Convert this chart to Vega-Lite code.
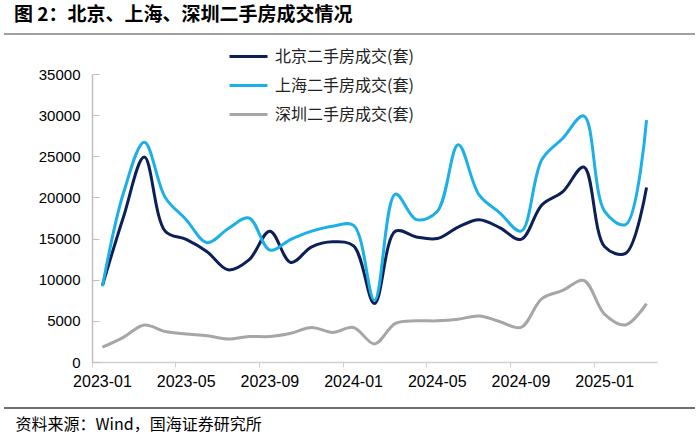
{
  "$schema": "https://vega.github.io/schema/vega-lite/v6.json",
  "width": 565,
  "height": 288,
  "autosize": {"type": "none"},
  "padding": {"left": 92, "top": 74, "right": 43, "bottom": 72},
  "background": "#ffffff",
  "title": {
    "text": "图 2：北京、上海、深圳二手房成交情况",
    "anchor": "start",
    "frame": "group",
    "dx": -78,
    "offset": 8,
    "font": "Noto Sans CJK SC",
    "fontSize": 19,
    "fontWeight": "bold",
    "color": "#000000"
  },
  "config": {
    "view": {"stroke": null},
    "font": "Liberation Sans"
  },
  "datasets": {
    "deals": [
      {"month": "2023-01", "city": "北京二手房成交(套)", "value": 9300},
      {"month": "2023-02", "city": "北京二手房成交(套)", "value": 17600},
      {"month": "2023-03", "city": "北京二手房成交(套)", "value": 24900},
      {"month": "2023-04", "city": "北京二手房成交(套)", "value": 15900},
      {"month": "2023-05", "city": "北京二手房成交(套)", "value": 14900},
      {"month": "2023-06", "city": "北京二手房成交(套)", "value": 13400},
      {"month": "2023-07", "city": "北京二手房成交(套)", "value": 11200},
      {"month": "2023-08", "city": "北京二手房成交(套)", "value": 12400},
      {"month": "2023-09", "city": "北京二手房成交(套)", "value": 15900},
      {"month": "2023-10", "city": "北京二手房成交(套)", "value": 12100},
      {"month": "2023-11", "city": "北京二手房成交(套)", "value": 14000},
      {"month": "2023-12", "city": "北京二手房成交(套)", "value": 14600},
      {"month": "2024-01", "city": "北京二手房成交(套)", "value": 14100},
      {"month": "2024-02", "city": "北京二手房成交(套)", "value": 7100},
      {"month": "2024-03", "city": "北京二手房成交(套)", "value": 15900},
      {"month": "2024-04", "city": "北京二手房成交(套)", "value": 15200},
      {"month": "2024-05", "city": "北京二手房成交(套)", "value": 15000},
      {"month": "2024-06", "city": "北京二手房成交(套)", "value": 16400},
      {"month": "2024-07", "city": "北京二手房成交(套)", "value": 17300},
      {"month": "2024-08", "city": "北京二手房成交(套)", "value": 16300},
      {"month": "2024-09", "city": "北京二手房成交(套)", "value": 14900},
      {"month": "2024-10", "city": "北京二手房成交(套)", "value": 19100},
      {"month": "2024-11", "city": "北京二手房成交(套)", "value": 20700},
      {"month": "2024-12", "city": "北京二手房成交(套)", "value": 23700},
      {"month": "2025-01", "city": "北京二手房成交(套)", "value": 14000},
      {"month": "2025-02", "city": "北京二手房成交(套)", "value": 13200},
      {"month": "2025-03", "city": "北京二手房成交(套)", "value": 21200},
      {"month": "2023-01", "city": "上海二手房成交(套)", "value": 9200},
      {"month": "2023-02", "city": "上海二手房成交(套)", "value": 20500},
      {"month": "2023-03", "city": "上海二手房成交(套)", "value": 26700},
      {"month": "2023-04", "city": "上海二手房成交(套)", "value": 20000},
      {"month": "2023-05", "city": "上海二手房成交(套)", "value": 17300},
      {"month": "2023-06", "city": "上海二手房成交(套)", "value": 14500},
      {"month": "2023-07", "city": "上海二手房成交(套)", "value": 16200},
      {"month": "2023-08", "city": "上海二手房成交(套)", "value": 17500},
      {"month": "2023-09", "city": "上海二手房成交(套)", "value": 13600},
      {"month": "2023-10", "city": "上海二手房成交(套)", "value": 14900},
      {"month": "2023-11", "city": "上海二手房成交(套)", "value": 15900},
      {"month": "2023-12", "city": "上海二手房成交(套)", "value": 16500},
      {"month": "2024-01", "city": "上海二手房成交(套)", "value": 16600},
      {"month": "2024-02", "city": "上海二手房成交(套)", "value": 7500},
      {"month": "2024-03", "city": "上海二手房成交(套)", "value": 20400},
      {"month": "2024-04", "city": "上海二手房成交(套)", "value": 17300},
      {"month": "2024-05", "city": "上海二手房成交(套)", "value": 18300},
      {"month": "2024-06", "city": "上海二手房成交(套)", "value": 26400},
      {"month": "2024-07", "city": "上海二手房成交(套)", "value": 20300},
      {"month": "2024-08", "city": "上海二手房成交(套)", "value": 18100},
      {"month": "2024-09", "city": "上海二手房成交(套)", "value": 15900},
      {"month": "2024-10", "city": "上海二手房成交(套)", "value": 24600},
      {"month": "2024-11", "city": "上海二手房成交(套)", "value": 27200},
      {"month": "2024-12", "city": "上海二手房成交(套)", "value": 29900},
      {"month": "2025-01", "city": "上海二手房成交(套)", "value": 18300},
      {"month": "2025-02", "city": "上海二手房成交(套)", "value": 16700},
      {"month": "2025-03", "city": "上海二手房成交(套)", "value": 29400},
      {"month": "2023-01", "city": "深圳二手房成交(套)", "value": 1800},
      {"month": "2023-02", "city": "深圳二手房成交(套)", "value": 3000},
      {"month": "2023-03", "city": "深圳二手房成交(套)", "value": 4500},
      {"month": "2023-04", "city": "深圳二手房成交(套)", "value": 3700},
      {"month": "2023-05", "city": "深圳二手房成交(套)", "value": 3400},
      {"month": "2023-06", "city": "深圳二手房成交(套)", "value": 3200},
      {"month": "2023-07", "city": "深圳二手房成交(套)", "value": 2800},
      {"month": "2023-08", "city": "深圳二手房成交(套)", "value": 3100},
      {"month": "2023-09", "city": "深圳二手房成交(套)", "value": 3100},
      {"month": "2023-10", "city": "深圳二手房成交(套)", "value": 3500},
      {"month": "2023-11", "city": "深圳二手房成交(套)", "value": 4200},
      {"month": "2023-12", "city": "深圳二手房成交(套)", "value": 3600},
      {"month": "2024-01", "city": "深圳二手房成交(套)", "value": 4200},
      {"month": "2024-02", "city": "深圳二手房成交(套)", "value": 2200},
      {"month": "2024-03", "city": "深圳二手房成交(套)", "value": 4700},
      {"month": "2024-04", "city": "深圳二手房成交(套)", "value": 5000},
      {"month": "2024-05", "city": "深圳二手房成交(套)", "value": 5000},
      {"month": "2024-06", "city": "深圳二手房成交(套)", "value": 5200},
      {"month": "2024-07", "city": "深圳二手房成交(套)", "value": 5600},
      {"month": "2024-08", "city": "深圳二手房成交(套)", "value": 4900},
      {"month": "2024-09", "city": "深圳二手房成交(套)", "value": 4200},
      {"month": "2024-10", "city": "深圳二手房成交(套)", "value": 7700},
      {"month": "2024-11", "city": "深圳二手房成交(套)", "value": 8700},
      {"month": "2024-12", "city": "深圳二手房成交(套)", "value": 9900},
      {"month": "2025-01", "city": "深圳二手房成交(套)", "value": 5800},
      {"month": "2025-02", "city": "深圳二手房成交(套)", "value": 4500},
      {"month": "2025-03", "city": "深圳二手房成交(套)", "value": 7100}
    ]
  },
  "layer": [
    {
      "data": {"values": [{"sep": "top"}]},
      "mark": {"type": "rule", "color": "#7f7f7f", "strokeWidth": 1.5, "clip": false},
      "encoding": {"x": {"value": -88}, "x2": {"value": 603}, "y": {"value": -40}}
    },
    {
      "data": {"values": [{"sep": "bottom"}]},
      "mark": {"type": "rule", "color": "#404040", "strokeWidth": 1.5, "clip": false},
      "encoding": {"x": {"value": -88}, "x2": {"value": 603}, "y": {"value": 334}}
    },
    {
      "data": {"name": "deals"},
      "mark": {"type": "line", "interpolate": "catmull-rom", "strokeWidth": 3, "clip": false},
      "encoding": {
        "x": {
          "field": "month",
          "type": "ordinal",
          "bandPosition": 0.5,
          "scale": {"type": "band", "paddingInner": 0, "paddingOuter": 0},
          "axis": {
            "values": ["2023-01", "2023-05", "2023-09", "2024-01", "2024-05", "2024-09", "2025-01"],
            "bandPosition": 0,
            "labelAngle": 0,
            "labelFont": "Liberation Sans",
            "labelFontSize": 16,
            "labelColor": "#000000",
            "labelPadding": 6,
            "tickSize": 5,
            "tickColor": "#d0d0d0",
            "domainColor": "#d0d0d0",
            "domainWidth": 1.5,
            "grid": false,
            "title": "资料来源：Wind，国海证券研究所",
            "titleFont": "Noto Sans CJK SC",
            "titleFontSize": 16,
            "titleFontWeight": "normal",
            "titleColor": "#000000",
            "titleAnchor": "start",
            "titleAlign": "left",
            "titleBaseline": "middle",
            "titleX": -77,
            "titleY": 62
          }
        },
        "y": {
          "field": "value",
          "type": "quantitative",
          "scale": {"domain": [0, 35000], "nice": false},
          "axis": {
            "values": [0, 5000, 10000, 15000, 20000, 25000, 30000, 35000],
            "format": "d",
            "labelFont": "Liberation Sans",
            "labelFontSize": 15,
            "labelColor": "#000000",
            "tickSize": -7,
            "labelPadding": 19,
            "tickColor": "#bfbfbf",
            "domainColor": "#bfbfbf",
            "domainWidth": 1.5,
            "grid": false,
            "title": null
          }
        },
        "color": {
          "field": "city",
          "type": "nominal",
          "scale": {
            "domain": ["北京二手房成交(套)", "上海二手房成交(套)", "深圳二手房成交(套)"],
            "range": ["#0c1f56", "#1cb0e6", "#a6a6a6"]
          },
          "legend": {
            "orient": "none",
            "legendX": 136,
            "legendY": -38,
            "title": null,
            "symbolType": "stroke",
            "symbolSize": 1444,
            "symbolStrokeWidth": 3,
            "labelFont": "Noto Sans CJK SC",
            "labelFontSize": 16,
            "labelColor": "#222222",
            "labelOffset": 6,
            "rowPadding": -6
          }
        }
      }
    }
  ]
}
